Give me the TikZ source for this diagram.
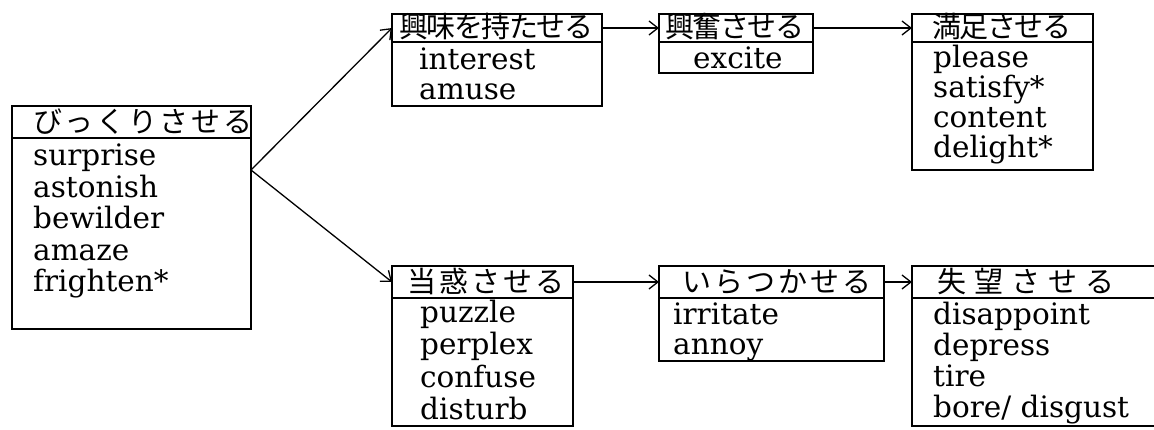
\documentclass[tikz,border=0pt]{standalone}
\usepackage{fontspec}
\setmainfont{DejaVu Serif}
\newfontfamily\jpfont{Noto Sans CJK JP}
\usetikzlibrary{arrows.meta}
\tikzset{
  cell/.style={draw, line width=2pt, inner sep=0pt, outer sep=0pt, anchor=north west},
  head/.style={inner sep=0pt, anchor=base west, font=\jpfont\fontsize{29}{29}\selectfont},
  body/.style={inner sep=0pt, anchor=base west, font=\fontsize{29.5}{31}\selectfont},
  conn/.style={line width=1.3pt, -{Straight Barb[length=9pt,width=14pt,line width=1.3pt]}},
}
\newcommand\gp{\hskip 0pt plus 1fill minus 1fill\relax}
\newcommand\spreadtext[2]{\makebox[#1pt][s]{#2}}
\newcommand\words[5]{%
  \foreach \w [count=\i from 0] in {#5}
    \node[body] (#1-\i) at (#2, {#3+\i*#4}) {\w};}
\begin{document}
\begin{tikzpicture}[x=1pt,y=-1pt]
\useasboundingbox (0,0) rectangle (1154,430);
% Box A
\node[cell, minimum width=239pt, minimum height=32pt]  (hA) at (12,106) {};
\node[cell, minimum width=239pt, minimum height=191pt] (bA) at (12,138) {};
\node[head] (tA) at (33,133) {\spreadtext{219}{び\gp っ\gp く\gp り\gp さ\gp せ\gp る}};
\words{wA}{33}{166}{31.5}{surprise,astonish,bewilder,amaze,frighten*}
% Box B
\node[cell, minimum width=210pt, minimum height=28pt] (hB) at (392,14) {};
\node[cell, minimum width=210pt, minimum height=64pt] (bB) at (392,42) {};
\node[head] (tB) at (399,38) {\spreadtext{194}{興\gp 味\gp を\gp 持\gp た\gp せ\gp る}};
\words{wB}{419}{70}{30}{interest,amuse}
% Box C
\node[cell, minimum width=154pt, minimum height=28pt] (hC) at (659,14) {};
\node[cell, minimum width=154pt, minimum height=31pt] (bC) at (659,42) {};
\node[head] (tC) at (665,38) {\spreadtext{139}{興\gp 奮\gp さ\gp せ\gp る}};
\words{wC}{693}{69}{30}{excite}
% Box D
\node[cell, minimum width=181pt, minimum height=28pt]  (hD) at (912,14) {};
\node[cell, minimum width=181pt, minimum height=128pt] (bD) at (912,42) {};
\node[head] (tD) at (932,38) {\spreadtext{139}{満\gp 足\gp さ\gp せ\gp る}};
\words{wD}{933}{68}{29.7}{please,satisfy*,content,delight*}
% Box E
\node[cell, minimum width=181pt, minimum height=32pt]  (hE) at (392,266) {};
\node[cell, minimum width=181pt, minimum height=128pt] (bE) at (392,298) {};
\node[head] (tE) at (407,293) {\spreadtext{157}{当\gp 惑\gp さ\gp せ\gp る}};
\words{wE}{420}{323}{32}{puzzle,perplex,confuse,disturb}
% Box F
\node[cell, minimum width=225pt, minimum height=32pt] (hF) at (659,266) {};
\node[cell, minimum width=225pt, minimum height=63pt] (bF) at (659,298) {};
\node[head] (tF) at (682,293) {\spreadtext{189}{い\gp ら\gp つ\gp か\gp せ\gp る}};
\words{wF}{673}{325}{30}{irritate,annoy}
% Box G (runs past the right edge)
\node[cell, minimum width=260pt, minimum height=32pt]  (hG) at (912,266) {};
\node[cell, minimum width=260pt, minimum height=128pt] (bG) at (912,298) {};
\node[head] (tG) at (937,293) {\spreadtext{177}{失\gp 望\gp さ\gp せ\gp る}};
\words{wG}{933}{324}{31.3}{disappoint,depress,tire,bore/ disgust}
% connectors
\coordinate (fork) at (251,170);
\draw[conn] (fork) -- (hB.west);
\draw[conn] (fork) -- (hE.west);
\draw[conn] (hB.east) -- (hC.west);
\draw[conn] (hC.east) -- (hD.west);
\draw[conn] (hE.east) -- (hF.west);
\draw[conn] (hF.east) -- (hG.west);
\end{tikzpicture}
\end{document}
